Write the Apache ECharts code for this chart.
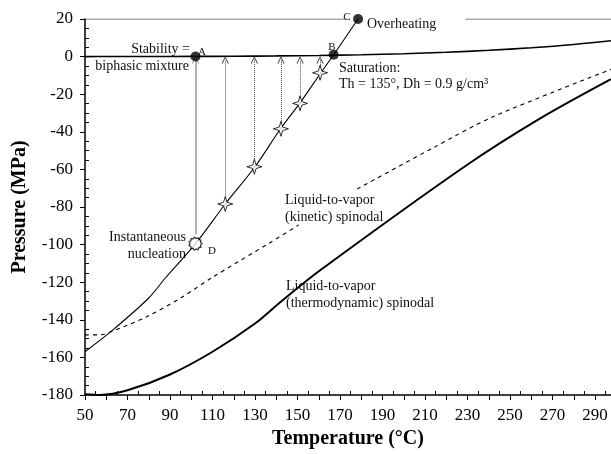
<!DOCTYPE html>
<html>
<head>
<meta charset="utf-8">
<script src="https://cdn.jsdelivr.net/npm/echarts@6/dist/echarts.min.js"></script>
<style>
  html, body { margin: 0; padding: 0; background: #fff; }
  #chart { width: 611px; height: 454px; }
</style>
</head>
<body>
<div id="chart"></div>
<script>
// saturation (liquid-vapor) curve
var satT = [50, 60, 80, 100, 120, 140, 160, 180, 200, 220, 240, 260, 280, 297.5];
var satP = [0.01, 0.02, 0.05, 0.1, 0.2, 0.36, 0.62, 1.0, 1.55, 2.32, 3.35, 4.69, 6.42, 8.4];

// isochore through B (Th = 135, Dh = 0.9)
var isoT = [50, 63, 80, 88, 102, 116, 130, 142, 151, 161, 167, 178.5];
var isoP = [-157, -145.5, -128.4, -117.5, -99.5, -78.4, -58.6, -38.4, -24.9, -8.6, 1, 20];

// kinetic spinodal (dashed), '-' breaks the line behind the label
var kinT = [50, 57, 63, 79, 95, 110, 137, 150.5, 164, 178, 214, 242, 297.5];
var kinP = [-148, -148, -146, -138.4, -128.4, -117.4, -99, -89.6, '-', -70.5, -48.4, -32, -6.8];

// thermodynamic spinodal
var thT = [50, 57, 70, 90, 110, 130, 142, 160.5, 229, 264, 297.5];
var thP = [-179.6, -180, -177.5, -169.1, -157, -142, -130.5, -113.8, -58.2, -33, -12];

// stars on the isochore + arrows up to the saturation curve
var starT = [116, 129.7, 142.2, 151.2, 160.6];
var starP = [-78.4, -58.6, -38.4, -24.9, -8.6];
var arrowTop = -1.8;

var ptA = [102, 0.1], ptB = [167, 1], ptC = [178.5, 20], ptD = [102, -99.5];

// top frame line with a gap for "Overheating"
var topSegs = [[50, 173.5], [229, 297.5]];
var topP = 20;

var xTicks = { min: 50, max: 297.5, step: 10 };
var yTicks = { min: -180, max: 20, step: 20 };

function pairs(xs, ys) {
    return xs.map(function (x, i) { return [x, ys[i]]; });
}

var font = 'Liberation Serif';

var starPath = 'path://M10,0 L12.3,7.7 L20,10 L12.3,12.3 L10,20 L7.7,12.3 L0,10 L7.7,7.7 Z';
var arrowPath = 'path://M5,0 L10,9 L9,10 L5,2.5 L1,10 L0,9 Z';
var burst = 'path://';
for (var i = 0; i < 22; i++) {
    var r = i % 2 ? 8 : 10;
    var a = i / 22 * Math.PI * 2;
    burst += (i ? 'L' : 'M') + (10 + r * Math.cos(a)).toFixed(2) + ',' + (10 + r * Math.sin(a)).toFixed(2) + ' ';
}
burst += 'Z';

var arrows = starT.map(function (t, i) {
    return [{ coord: [t, starP[i] + 3] }, { coord: [t, arrowTop] }];
});

var myChart = echarts.init(document.getElementById('chart'));
function label(x, y, s, align, size) {
    return {
        type: 'text', x: x, y: y, silent: true,
        style: { text: s, fontFamily: font, fontSize: size || 14, fill: '#111',
                 align: align || 'left', verticalAlign: 'middle' }
    };
}

var option = {
    animation: false,
    grid: { left: 85, right: 0, top: 19, bottom: 56 },
    xAxis: {
        type: 'value',
        min: xTicks.min, max: xTicks.max, interval: xTicks.step,
        name: 'Temperature (°C)', nameLocation: 'middle', nameGap: 34,
        nameTextStyle: { fontFamily: font, fontSize: 20, fontWeight: 'bold', color: '#000' },
        axisLine: { onZero: false, lineStyle: { color: '#000', width: 1.5 } },
        axisTick: { length: 5, lineStyle: { color: '#000' } },
        minorTick: { show: true, splitNumber: 2, length: -4, lineStyle: { color: '#000' } },
        axisLabel: {
            fontFamily: font, fontSize: 17, color: '#000', margin: 12,
            showMaxLabel: false,
            formatter: function (v) { return (v - 50) % 20 === 0 ? v : ''; }
        },
        splitLine: { show: false }
    },
    yAxis: {
        type: 'value',
        min: yTicks.min, max: yTicks.max, interval: yTicks.step,
        name: 'Pressure (MPa)', nameLocation: 'middle', nameGap: 55,
        nameTextStyle: { fontFamily: font, fontSize: 20, fontWeight: 'bold', color: '#000' },
        axisLine: { onZero: false, lineStyle: { color: '#000', width: 1.5 } },
        axisTick: { length: 5, lineStyle: { color: '#000' } },
        minorTick: { show: true, splitNumber: 4, length: -4, lineStyle: { color: '#000' } },
        axisLabel: { fontFamily: font, fontSize: 17, color: '#000', margin: 12 },
        splitLine: { show: false }
    },
    series: [
        {
            type: 'line', data: [[topSegs[0][0], topP], [topSegs[0][1], topP], [200, '-'],
                                 [topSegs[1][0], topP], [topSegs[1][1], topP]],
            showSymbol: false, lineStyle: { color: '#555', width: 1.2 }, silent: true
        },
        {
            type: 'line', data: pairs(satT, satP), smooth: 0.3, showSymbol: false,
            lineStyle: { color: '#000', width: 1.6 }, silent: true
        },
        {
            type: 'line', data: pairs(kinT, kinP), smooth: 0.3, showSymbol: false,
            lineStyle: { color: '#000', width: 1.1, type: [4, 4] }, silent: true
        },
        {
            type: 'line', data: pairs(thT, thP), smooth: 0.3, showSymbol: false,
            lineStyle: { color: '#000', width: 2 }, silent: true
        },
        {
            type: 'line', data: pairs(isoT, isoP), smooth: 0.3, showSymbol: false,
            lineStyle: { color: '#000', width: 1.1 }, silent: true,
            markLine: {
                silent: true, animation: false,
                symbol: ['none', arrowPath], symbolSize: [7, 8],
                label: { show: false },
                lineStyle: { color: '#444', width: 1, type: 'dotted' },
                data: arrows.concat([[
                    { coord: [ptD[0], ptD[1] + 5], lineStyle: { color: '#999', width: 1.5, type: 'solid' } },
                    { coord: [ptD[0], arrowTop] }
                ]])
            }
        },
        {
            type: 'scatter', data: pairs(starT, starP), symbol: starPath, symbolSize: 15,
            itemStyle: { color: '#fff', borderColor: '#000', borderWidth: 1 }, silent: true, z: 5
        },
        {
            type: 'scatter', data: [ptA, ptB, ptC], symbolSize: 10,
            itemStyle: { color: '#000' }, silent: true, z: 5
        },
        {
            type: 'scatter', data: [ptD], symbol: burst, symbolSize: 13,
            itemStyle: { color: '#fff', borderColor: '#000', borderWidth: 1.2 }, silent: true, z: 5
        }
    ],
    graphic: [
        label(190, 49, 'Stability =', 'right'),
        label(189, 66, 'biphasic mixture', 'right'),
        label(198, 52, 'A', 'left', 11),
        label(332, 47, 'B', 'center', 11),
        label(347, 17, 'C', 'center', 11),
        label(208, 251, 'D', 'left', 11),
        label(367, 24, 'Overheating'),
        label(339, 68, 'Saturation:'),
        label(339, 84, 'Th = 135°, Dh = 0.9 g/cm³'),
        label(186, 237, 'Instantaneous', 'right'),
        label(186, 254, 'nucleation', 'right'),
        label(285, 200, 'Liquid-to-vapor'),
        label(285, 217, '(kinetic) spinodal'),
        label(286, 286, 'Liquid-to-vapor'),
        label(286, 303, '(thermodynamic) spinodal')
    ]
};
myChart.setOption(option);
</script>
</body>
</html>
